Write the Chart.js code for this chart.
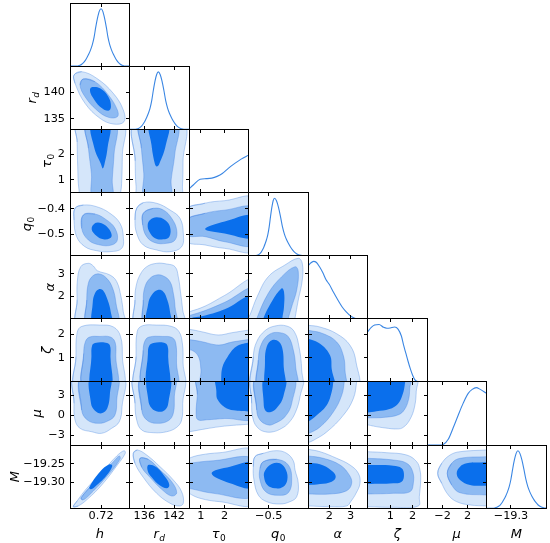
<!DOCTYPE html>
<html>
<head>
<meta charset="utf-8">
<script src="https://cdn.jsdelivr.net/npm/chart.js@4.4.1/dist/chart.umd.min.js"></script>
<style>
html,body{margin:0;padding:0;background:#fff;}
body{position:relative;width:550px;height:543px;overflow:hidden;}
canvas{position:absolute;}
</style>
</head>
<body>
<script>
// ---------------- data ----------------
const params = ['h', 'r_d', 'τ_0', 'q_0', 'α', 'ζ', 'μ', 'M'];
const axisMin = [0.6835, 133, 0.5, -0.585, 1.0, -0.02, -4.5, -19.37];
const axisMax = [0.7535, 145, 3.0, -0.335, 3.8, 2.65, 5.0, -19.20];
const xTicks = [[0.72], [136, 142], [1, 2], [-0.5], [2, 3], [1, 2], [-2, 2], [-19.3]];
const xTickText = [['0.72'], ['136', '142'], ['1', '2'], ['−0.5'], ['2', '3'], ['1', '2'], ['−2', '2'], ['−19.3']];
const yTicks = [[], [140, 135], [2, 1], [-0.4, -0.5], [3, 2], [2, 1], [3, 0, -3], [-19.25, -19.30]];
const yTickText = [[], ['140', '135'], ['2', '1'], ['−0.4', '−0.5'], ['3', '2'], ['2', '1'], ['3', '0', '−3'], ['−19.25', '−19.30']];
const DENSITY_MAX = 1.1;

// 1D marginals: [x, density, x, density, ...]
const pdf_h = [0.6835,0, 0.6903,0, 0.6928,0.004, 0.6953,0.015, 0.6973,0.033, 0.6994,0.06, 0.7015,0.10, 0.7035,0.15, 0.7056,0.21, 0.7076,0.28, 0.7097,0.37, 0.7118,0.5, 0.7138,0.68, 0.7159,0.84, 0.7179,0.955, 0.72,1.0, 0.7221,0.955, 0.7241,0.84, 0.7262,0.68, 0.7282,0.5, 0.7303,0.37, 0.7324,0.28, 0.7344,0.21, 0.7365,0.15, 0.7385,0.10, 0.7406,0.06, 0.7427,0.033, 0.7447,0.015, 0.7472,0.004, 0.7497,0, 0.7535,0];
const pdf_rd = [133,0, 134.02,0, 134.42,0.004, 134.82,0.015, 135.15,0.033, 135.48,0.06, 135.82,0.10, 136.15,0.15, 136.48,0.21, 136.81,0.28, 137.15,0.37, 137.48,0.5, 137.81,0.68, 138.14,0.84, 138.48,0.955, 138.81,1.0, 139.18,0.955, 139.56,0.84, 139.93,0.68, 140.3,0.5, 140.68,0.37, 141.05,0.28, 141.42,0.21, 141.8,0.15, 142.17,0.10, 142.54,0.06, 142.91,0.033, 143.29,0.015, 143.74,0.004, 144.18,0, 145,0];
const pdf_tau = [0.5,0.063, 0.68,0.13, 0.97,0.23, 1.22,0.24, 1.46,0.25, 1.68,0.28, 1.9,0.33, 2.15,0.42, 2.44,0.51, 2.69,0.58, 3.0,0.65];
const pdf_q0 = [-0.585,0, -0.556,0, -0.5493,0.004, -0.5426,0.015, -0.537,0.033, -0.5315,0.06, -0.5259,0.10, -0.5203,0.15, -0.5148,0.21, -0.5092,0.28, -0.5036,0.37, -0.4981,0.5, -0.4925,0.68, -0.4869,0.84, -0.4814,0.955, -0.4758,1.0, -0.4674,0.955, -0.459,0.84, -0.4506,0.68, -0.4422,0.5, -0.4338,0.37, -0.4254,0.28, -0.417,0.21, -0.4086,0.15, -0.4002,0.10, -0.3918,0.06, -0.3834,0.033, -0.375,0.015, -0.3649,0.004, -0.3548,0, -0.335,0];
const pdf_al = [1.0,0.92, 1.12,0.97, 1.26,1.0, 1.4,0.98, 1.55,0.90, 1.7,0.80, 1.85,0.68, 2.0,0.60, 2.2,0.46, 2.4,0.33, 2.6,0.21, 2.8,0.12, 3.0,0.05, 3.2,0.01, 3.4,0, 3.8,0];
const pdf_ze = [-0.02,0.87, 0.15,0.95, 0.3,0.99, 0.5,1.0, 0.7,0.95, 0.85,0.935, 1.0,0.94, 1.2,0.955, 1.35,0.92, 1.5,0.80, 1.6,0.64, 1.7,0.50, 1.8,0.36, 1.9,0.23, 2.0,0.12, 2.1,0.04, 2.2,0.01, 2.3,0, 2.65,0];
const pdf_mu = [-4.5,0, -2.5,0, -1.91,0.01, -1.11,0.10, -0.32,0.30, 0.48,0.52, 1.28,0.73, 2.08,0.90, 2.72,0.97, 3.36,1.0, 4.0,0.97, 5.0,0.90];
const pdf_M = [-19.37,0, -19.3523,0, -19.3463,0.004, -19.3403,0.015, -19.3353,0.033, -19.3303,0.06, -19.3253,0.10, -19.3203,0.15, -19.3153,0.21, -19.3103,0.28, -19.3053,0.37, -19.3003,0.5, -19.2953,0.68, -19.2903,0.84, -19.2853,0.955, -19.2803,1.0, -19.2746,0.955, -19.2689,0.84, -19.2632,0.68, -19.2574,0.5, -19.2517,0.37, -19.246,0.28, -19.2403,0.21, -19.2346,0.15, -19.2289,0.10, -19.2232,0.06, -19.2174,0.033, -19.2117,0.015, -19.2049,0.004, -19.198,0];

// 2D contours (outer, middle, inner), each [x, y, x, y, ...] in data units
const k_rd_h = [
 [0.6882,143.32, 0.6973,143.95, 0.7149,142.69, 0.7344,139.84, 0.7462,136.67, 0.7470,134.44, 0.7344,134.01, 0.7188,135.09, 0.7012,137.94, 0.6894,141.74],
 [0.6991,142.56, 0.7129,142.05, 0.7286,139.52, 0.7392,136.67, 0.7392,135.39, 0.7286,135.28, 0.7149,136.67, 0.7012,139.19, 0.6953,141.42],
 [0.7090,140.98, 0.7188,140.79, 0.7286,139.19, 0.7317,137.29, 0.7286,136.53, 0.7188,137.29, 0.7102,139.08, 0.7070,140.33]];
const k_tau_h = [
 [0.6919,3.25, 0.7455,3.25, 0.7451,2.0, 0.7444,1.0, 0.7430,0.5, 0.7395,0.25, 0.6975,0.25, 0.694,0.625, 0.6926,1.5, 0.6919,2.5],
 [0.7031,3.25, 0.7367,3.25, 0.7353,2.0, 0.7332,1.0, 0.7325,0.25, 0.7108,0.25, 0.7087,1.25, 0.7052,2.25],
 [0.7087,3.25, 0.7297,3.25, 0.7276,2.25, 0.7241,1.625, 0.722,1.45, 0.7199,1.625, 0.7122,2.25]];
const k_tau_rd = [
 [134.08,3.25, 143.86,3.25, 143.8,1.75, 143.68,0.75, 143.32,0.25, 134.8,0.25, 134.32,0.75, 134.14,1.75],
 [135.16,3.25, 142.48,3.25, 142.12,2.0, 141.4,1.0, 141.16,0.25, 136.12,0.25, 135.88,1.25, 135.4,2.25],
 [137.08,3.25, 140.8,3.25, 140.32,2.375, 139,1.625, 138.47,1.525, 138.04,1.7, 137.44,2.375]];
const k_q0_h = [
 [0.6894,-0.3978, 0.6992,-0.3848, 0.7149,-0.3915, 0.7305,-0.4175, 0.7423,-0.4573, 0.7462,-0.51, 0.7443,-0.5563, 0.7305,-0.5695, 0.7149,-0.5655, 0.7011,-0.5498, 0.6913,-0.51, 0.6882,-0.444],
 [0.6992,-0.4243, 0.7129,-0.4203, 0.7266,-0.444, 0.7364,-0.477, 0.7392,-0.5233, 0.7325,-0.543, 0.7188,-0.543, 0.7051,-0.5233, 0.6972,-0.477],
 [0.7129,-0.4573, 0.7207,-0.4573, 0.7286,-0.477, 0.7325,-0.5035, 0.7305,-0.5165, 0.7227,-0.5205, 0.7149,-0.5075, 0.709,-0.481]];
const k_q0_rd = [
 [134.45,-0.3978, 135.78,-0.3755, 138.48,-0.378, 141.17,-0.4045, 143.19,-0.4375, 143.85,-0.4968, 143.52,-0.5498, 141.17,-0.5695, 138.48,-0.5628, 135.78,-0.543, 134.45,-0.4968, 134.1,-0.444],
 [135.78,-0.4175, 137.8,-0.3978, 139.82,-0.4045, 141.51,-0.4375, 142.52,-0.4838, 142.18,-0.5233, 140.5,-0.5363, 138.15,-0.534, 136.47,-0.51, 135.66,-0.4638],
 [137.14,-0.444, 138.48,-0.4335, 140.16,-0.444, 141.17,-0.4705, 141.03,-0.51, 139.82,-0.5205, 138.15,-0.5165, 137,-0.4903, 136.67,-0.4638]];
const k_q0_tau = [
 [0.375,-0.405, 1.175,-0.3775, 2.0,-0.3675, 3.25,-0.36, 3.25,-0.5625, 2.0,-0.5563, 1.175,-0.543, 0.375,-0.525],
 [0.375,-0.445, 1.175,-0.4175, 2.0,-0.405, 3.25,-0.3975, 3.25,-0.54, 2.0,-0.53, 1.175,-0.51, 0.375,-0.5025],
 [1.175,-0.48, 2.0,-0.45, 3.25,-0.4275, 3.25,-0.5125, 2.0,-0.4975]];
const k_al_h = [
 [0.6926,0.72, 0.6919,1.84, 0.6921,2.644, 0.6961,3.307, 0.7051,3.458, 0.711,3.338, 0.7156,3.131, 0.7305,2.94, 0.7385,2.644, 0.7435,1.977, 0.7462,1.314, 0.7479,0.72],
 [0.7038,0.72, 0.7032,1.832, 0.7051,2.571, 0.7102,2.896, 0.718,2.985, 0.7267,2.792, 0.7337,2.35, 0.7376,1.683, 0.7392,0.72],
 [0.7108,0.72, 0.7102,1.683, 0.7129,2.128, 0.718,2.319, 0.7227,2.246, 0.7278,1.832, 0.7314,1.314, 0.7325,0.72]];
const k_al_rd = [
 [134.32,0.72, 134.1,1.832, 134.31,2.422, 135.11,2.94, 136.47,3.307, 138.48,3.458, 140.5,3.428, 142.18,3.307, 142.84,2.865, 143.32,2.128, 143.73,1.389, 144.04,0.72],
 [136.12,0.72, 135.78,1.832, 136.12,2.422, 137.14,2.792, 138.48,2.94, 139.82,2.896, 141.17,2.644, 141.84,2.128, 142.18,1.535, 142.31,0.72],
 [136.6,0.72, 136.79,1.683, 137.48,2.053, 138.69,2.274, 139.82,2.201, 140.63,1.832, 141.17,1.314, 141.3,0.72]];
const k_al_tau = [
 [0.25,0.72, 0.25,1.252, 0.5,1.308, 1.175,1.56, 2.0,2.036, 3.25,2.736, 3.25,0.72],
 [0.25,0.72, 0.25,1.084, 0.5,1.14, 1.175,1.364, 2.0,1.728, 3.25,2.344, 3.25,0.72],
 [0.5,0.72, 0.5,0.972, 1.175,1.14, 2.0,1.42, 3.25,2.036, 3.25,0.72]];
const k_al_q0 = [
 [-0.585,0.72, -0.585,1.056, -0.5788,1.168, -0.5475,2.008, -0.5018,2.865, -0.4318,3.383, -0.3758,3.68, -0.359,3.458, -0.359,2.719, -0.3758,1.832, -0.39,1.0, -0.395,0.72],
 [-0.555,0.72, -0.5505,1.0, -0.5018,2.128, -0.4455,2.865, -0.3895,3.307, -0.3758,3.086, -0.3825,2.274, -0.4035,1.535, -0.4178,1.0, -0.42,0.72],
 [-0.525,0.72, -0.5228,1.0, -0.4875,1.756, -0.4455,2.35, -0.4358,2.201, -0.4358,1.535, -0.443,1.0, -0.4438,0.72]];
const k_ze_h = [
 [0.6905,-0.287, 0.6905,1.048, 0.6919,2.063, 0.6975,2.33, 0.7185,2.383, 0.7346,2.303, 0.743,1.902, 0.7451,1.048, 0.7444,-0.287],
 [0.6996,-0.287, 0.6996,1.182, 0.7017,1.689, 0.7066,1.876, 0.7185,1.902, 0.7311,1.876, 0.7367,1.635, 0.7374,1.048, 0.7374,-0.287],
 [0.7087,-0.287, 0.7087,1.048, 0.7094,1.502, 0.7129,1.622, 0.7255,1.635, 0.7304,1.529, 0.7311,1.048, 0.7311,-0.287]];
const k_ze_rd = [
 [134.32,-0.287, 134.32,1.048, 134.56,2.116, 135.64,2.356, 138.4,2.383, 141.4,2.33, 142.96,2.116, 143.68,1.582, 143.8,0.781, 143.8,-0.287],
 [135.76,-0.287, 135.76,1.315, 136.12,1.716, 136.96,1.876, 139.6,1.902, 141.64,1.849, 142.36,1.582, 142.48,0.781, 142.48,-0.287],
 [136.72,-0.287, 136.72,1.182, 136.96,1.502, 137.8,1.622, 139.96,1.635, 140.68,1.502, 140.8,1.048, 140.8,-0.287]];
const k_ze_tau = [
 [0.25,2.196, 0.5,2.204, 1.025,2.103, 1.725,1.964, 2.3,2.06, 3.0,2.169, 3.25,2.196, 3.25,-0.287, 0.25,-0.287],
 [0.25,1.796, 0.5,1.769, 1.0,1.689, 1.75,1.539, 2.3,1.662, 3.0,1.769, 3.25,1.796, 3.25,-0.287, 1.05,-0.287, 1.0,0.514, 0.9,1.048, 0.625,1.315, 0.25,1.368],
 [3.25,1.662, 3.0,1.649, 2.475,1.467, 2.125,1.048, 1.9,0.594, 1.85,-0.02, 1.85,-0.287, 3.25,-0.287]];
const k_ze_q0 = [
 [-0.565,-0.287, -0.5648,1.048, -0.5505,1.681, -0.5158,2.145, -0.4738,2.343, -0.4245,2.343, -0.3925,2.103, -0.3728,1.467, -0.3615,0.482, -0.365,-0.287],
 [-0.541,-0.287, -0.5438,0.906, -0.5295,1.611, -0.4948,2.004, -0.4528,2.06, -0.4178,1.892, -0.3968,1.328, -0.3868,0.621, -0.3855,-0.287],
 [-0.5085,-0.287, -0.5158,0.765, -0.5085,1.467, -0.485,1.75, -0.4568,1.681, -0.4413,1.328, -0.437,0.621, -0.4345,-0.287]];
const k_ze_al = [
 [0.72,-0.287, 0.72,2.383, 1.0,2.372, 1.566,2.3, 2.35,2.017, 2.977,1.529, 3.26,0.821, 3.296,-0.287],
 [0.72,-0.287, 0.72,2.169, 1.0,2.161, 1.72,2.017, 2.35,1.667, 2.66,1.104, 2.742,0.471, 2.708,-0.287],
 [0.72,-0.287, 0.72,1.822, 1.0,1.806, 1.566,1.595, 2.036,1.104, 2.114,0.538, 2.204,-0.287]];
const k_mu_h = [
 [0.6894,5.95, 0.6882,1.78, 0.6894,-0.729, 0.6953,-1.983, 0.709,-2.496, 0.7208,-2.733, 0.7325,-1.983, 0.7415,-0.985, 0.7447,1.267, 0.7455,5.95],
 [0.6972,5.95, 0.6972,0.773, 0.7039,-0.729, 0.7168,-1.232, 0.7286,-0.843, 0.7364,0.022, 0.7385,2.274, 0.7385,5.95],
 [0.7079,5.95, 0.7082,1.78, 0.7129,0.668, 0.7208,0.279, 0.7274,1.029, 0.7305,3.281, 0.7305,5.95]];
const k_mu_rd = [
 [134.1,5.95, 134.1,1.78, 134.45,-0.729, 135.46,-2.239, 137.8,-2.638, 140.5,-2.496, 142.52,-1.83, 143.52,-0.729, 143.73,1.78, 143.73,5.95],
 [135.46,5.95, 135.46,0.773, 136.47,-0.729, 138.48,-1.232, 140.82,-0.843, 141.83,0.279, 142.04,2.777, 142.04,5.95],
 [136.79,5.95, 136.79,2.274, 137.48,1.029, 138.81,0.516, 140.16,0.773, 140.82,1.78, 141.03,5.95]];
const k_mu_tau = [
 [0.25,5.95, 3.25,5.95, 3.25,-1.27, 3.0,-1.365, 2.0,-1.65, 1.25,-2.03, 0.5,-2.505, 0.25,-2.6],
 [0.875,5.95, 3.25,5.95, 3.25,-0.32, 2.0,-0.51, 1.25,-0.7, 0.875,-0.7, 0.8,0.25, 0.85,3.1],
 [1.675,5.95, 3.25,5.95, 3.25,0.44, 3.0,0.535, 2.375,0.725, 2.0,1.2, 1.7,2.34, 1.65,3.575]];
const k_mu_q0 = [
 [-0.5648,5.95, -0.5718,1.78, -0.5648,-0.729, -0.5438,-1.983, -0.5158,-2.496, -0.4808,-2.496, -0.4455,-1.983, -0.4178,-1.232, -0.3895,0.279, -0.3685,2.777, -0.3615,5.95],
 [-0.5505,5.95, -0.5505,0.773, -0.5368,-0.729, -0.5018,-1.479, -0.4738,-1.232, -0.4318,-0.235, -0.4035,1.78, -0.3968,5.95],
 [-0.5158,5.95, -0.5213,1.78, -0.5128,0.621, -0.4905,0.469, -0.464,1.181, -0.4388,2.777, -0.4318,5.95]];
const k_mu_al = [
 [0.72,5.95, 3.296,5.95, 3.29,5.0, 3.131,2.473, 2.66,-0.026, 1.879,-2.534, 1.252,-3.797, 1.0,-4.149, 0.72,-4.5],
 [0.72,5.95, 2.722,5.95, 2.708,5.0, 2.585,2.977, 2.19,0.469, 1.566,-1.783, 1.0,-2.79, 0.72,-3.075],
 [0.72,5.95, 2.204,5.95, 2.19,5.0, 2.114,3.48, 1.879,1.476, 1.409,-0.026, 1.0,-1.033, 0.72,-1.365]];
const k_mu_ze = [
 [-0.287,5.95, 2.169,5.95, 2.169,3.575, 2.089,1.2, 1.876,-0.7, 1.582,-1.84, 1.315,-2.078, 0.781,-1.935, 0.247,-1.65, -0.02,-1.46, -0.287,-1.365],
 [-0.287,5.95, 1.902,5.95, 1.876,4.05, 1.822,2.34, 1.635,0.82, 1.368,0.06, 0.781,-0.32, -0.02,-0.415, -0.287,-0.415],
 [-0.287,5.95, 1.662,5.95, 1.662,4.81, 1.555,3.1, 1.342,1.675, 0.968,0.915, 0.381,0.583, -0.02,0.393, -0.287,0.345]];
const k_M_h = [
 [0.6874,-19.3659, 0.6921,-19.3498, 0.7032,-19.3165, 0.7227,-19.269, 0.7385,-19.2294, 0.7471,-19.2151, 0.7485,-19.2223, 0.7392,-19.2537, 0.7208,-19.3076, 0.7039,-19.346, 0.6932,-19.364],
 [0.6965,-19.3418, 0.7149,-19.294, 0.7345,-19.2449, 0.7415,-19.2294, 0.7423,-19.2384, 0.7259,-19.2869, 0.7051,-19.3372, 0.6984,-19.3479],
 [0.7062,-19.3137, 0.7188,-19.2717, 0.7298,-19.2519, 0.7333,-19.2564, 0.7259,-19.2833, 0.7129,-19.3122, 0.7079,-19.3192]];
const k_M_rd = [
 [133.77,-19.2223, 134.57,-19.2133, 136.47,-19.2269, 139.16,-19.2583, 141.83,-19.294, 143.52,-19.3256, 143.85,-19.3567, 143.04,-19.364, 141.17,-19.3567, 138.48,-19.3299, 135.78,-19.2869, 134.1,-19.2491],
 [135.11,-19.2357, 136.79,-19.2384, 139.16,-19.2672, 141.51,-19.2986, 142.52,-19.3284, 141.51,-19.3372, 139.49,-19.3192, 137.14,-19.2869, 135.46,-19.2598],
 [136.79,-19.2537, 138.28,-19.2583, 140.16,-19.2852, 141.03,-19.3076, 140.5,-19.3165, 139.01,-19.3076, 137.48,-19.2869, 136.67,-19.269]];
const k_M_tau = [
 [0.375,-19.2425, 0.5,-19.2357, 0.9625,-19.2269, 1.8,-19.2206, 3.25,-19.217, 3.25,-19.3564, 1.8,-19.3525, 0.9625,-19.3433, 0.5,-19.3299, 0.375,-19.3224],
 [0.375,-19.251, 0.5,-19.2491, 1.525,-19.2422, 3.25,-19.2391, 3.25,-19.336, 1.525,-19.3299, 0.5,-19.3165, 0.375,-19.3156],
 [1.45,-19.276, 2.225,-19.2583, 3.25,-19.2493, 3.25,-19.3139, 2.225,-19.303]];
const k_M_q0 = [
 [-0.5578,-19.2313, -0.5228,-19.2223, -0.4665,-19.2151, -0.4245,-19.2223, -0.3968,-19.2422, -0.3895,-19.2672, -0.3758,-19.303, -0.3825,-19.3391, -0.4108,-19.3525, -0.4528,-19.3586, -0.5085,-19.3525, -0.5438,-19.3345, -0.562,-19.294, -0.5648,-19.2583],
 [-0.5228,-19.2449, -0.4665,-19.2384, -0.4178,-19.2537, -0.4035,-19.294, -0.4178,-19.3284, -0.4598,-19.3353, -0.5115,-19.3263, -0.5368,-19.294, -0.5368,-19.2626],
 [-0.5158,-19.269, -0.4875,-19.251, -0.4528,-19.2491, -0.4275,-19.2672, -0.422,-19.294, -0.4388,-19.312, -0.4738,-19.3165, -0.506,-19.3076, -0.5198,-19.2852]];
const k_M_al = [
 [0.72,-19.2085, 1.0,-19.2114, 1.566,-19.2179, 2.35,-19.2357, 2.977,-19.2537, 3.369,-19.276, 3.447,-19.303, 3.26,-19.3299, 3.008,-19.3525, 2.82,-19.364, 2.036,-19.3659, 1.0,-19.364, 0.72,-19.364],
 [0.72,-19.2289, 1.0,-19.2294, 1.72,-19.2357, 2.506,-19.2537, 2.943,-19.2806, 3.055,-19.303, 2.82,-19.3229, 2.036,-19.3318, 1.0,-19.3318, 0.72,-19.3318],
 [0.72,-19.2476, 1.0,-19.2474, 1.566,-19.2519, 2.114,-19.269, 2.305,-19.2852, 2.114,-19.2986, 1.566,-19.3049, 1.0,-19.3076, 0.72,-19.3076]];
const k_M_ze = [
 [-0.287,-19.217, -0.02,-19.2179, 0.84,-19.2206, 1.74,-19.2269, 2.188,-19.2449, 2.335,-19.2672, 2.367,-19.294, 2.306,-19.3391, 2.26,-19.364, 1.139,-19.3676, -0.02,-19.3659, -0.287,-19.3659],
 [-0.287,-19.2357, -0.02,-19.2357, 1.139,-19.2403, 1.74,-19.2491, 2.009,-19.2717, 2.036,-19.303, 1.886,-19.3256, 1.139,-19.3299, -0.02,-19.3318, -0.287,-19.3318],
 [-0.287,-19.2537, -0.02,-19.2537, 1.139,-19.2556, 1.513,-19.2626, 1.617,-19.2806, 1.513,-19.2986, 1.139,-19.303, -0.02,-19.3049, -0.287,-19.3049]];
const k_M_mu = [
 [-2.79,-19.276, -2.154,-19.2491, -0.824,-19.2269, 0.773,-19.2179, 5.0,-19.2133, 5.95,-19.2128, 5.95,-19.3649, 5.0,-19.364, 2.369,-19.3613, 0.241,-19.3525, -1.099,-19.3345, -2.154,-19.303],
 [-1.26,-19.276, -0.558,-19.2491, 0.773,-19.2357, 5.0,-19.2313, 5.95,-19.2306, 5.95,-19.3352, 5.0,-19.3345, 0.773,-19.3284, -0.558,-19.3076],
 [0.241,-19.276, 0.773,-19.2583, 1.837,-19.2491, 5.0,-19.2464, 5.95,-19.2459, 5.95,-19.3097, 5.0,-19.3095, 2.369,-19.3076, 0.773,-19.294]];

const marginals = [pdf_h, pdf_rd, pdf_tau, pdf_q0, pdf_al, pdf_ze, pdf_mu, pdf_M];
const contours = {
  '1,0': k_rd_h,
  '2,0': k_tau_h, '2,1': k_tau_rd,
  '3,0': k_q0_h, '3,1': k_q0_rd, '3,2': k_q0_tau,
  '4,0': k_al_h, '4,1': k_al_rd, '4,2': k_al_tau, '4,3': k_al_q0,
  '5,0': k_ze_h, '5,1': k_ze_rd, '5,2': k_ze_tau, '5,3': k_ze_q0, '5,4': k_ze_al,
  '6,0': k_mu_h, '6,1': k_mu_rd, '6,2': k_mu_tau, '6,3': k_mu_q0, '6,4': k_mu_al, '6,5': k_mu_ze,
  '7,0': k_M_h, '7,1': k_M_rd, '7,2': k_M_tau, '7,3': k_M_q0, '7,4': k_M_al, '7,5': k_M_ze, '7,6': k_M_mu
};

// ---------------- layout / style ----------------
const N = 8;
const GRID_LEFT = 70, GRID_TOP = 3, CELL_W = 59.5, CELL_H = 63.15, PAD = 3, PAGE_H = 543;
const TICK_FONT = {family: 'DejaVu Sans', size: 11.3};
const TITLE_SIZE = 13, SUB_SIZE = 9;
const TICK_LEN = 3.5;
const FILLS = ['#d5e6fa', '#8dbaf2', '#0a6fec'];
const EDGES = ['rgba(80,140,225,0.55)', 'rgba(60,125,225,0.5)', 'rgba(10,111,236,0)'];
const LINE1D = '#3a86e3';

Chart.defaults.font.family = 'DejaVu Sans';

function pairs(flat) {
  const a = [];
  for (let k = 0; k < flat.length; k += 2) a.push({x: flat[k], y: flat[k + 1]});
  return a;
}
function ring(flat) {
  const p = pairs(flat);
  const n = p.length;
  return [p[n - 1], ...p, p[0], p[1]];
}
function al(v) { return Math.floor(v) + 0.5; }

function drawMath(ctx, text, x, y, rotated) {
  const parts = text.split('_');
  const main = parts[0], sub = parts[1];
  const mainFont = `italic ${TITLE_SIZE}px "DejaVu Sans"`;
  const subFont = sub && /\d/.test(sub) ? `${SUB_SIZE}px "DejaVu Sans"` : `italic ${SUB_SIZE}px "DejaVu Sans"`;
  ctx.save();
  ctx.translate(x, y);
  if (rotated) ctx.rotate(-Math.PI / 2);
  ctx.fillStyle = '#000';
  ctx.textBaseline = 'alphabetic';
  ctx.textAlign = 'left';
  ctx.font = mainFont;
  const w1 = ctx.measureText(main).width;
  let w2 = 0;
  if (sub) { ctx.font = subFont; w2 = ctx.measureText(sub).width + 0.5; }
  const x0 = -(w1 + w2) / 2;
  ctx.font = mainFont;
  ctx.fillText(main, x0, 0);
  if (sub) { ctx.font = subFont; ctx.fillText(sub, x0 + w1 + 0.5, 3); }
  ctx.restore();
}

function framePlugin(row, col) {
  return {
    id: 'frame',
    afterDraw(chart) {
      const ctx = chart.ctx, a = chart.chartArea, xs = chart.scales.x, ys = chart.scales.y;
      ctx.save();
      ctx.strokeStyle = '#000';
      ctx.lineWidth = 1;
      const L = al(a.left), R = al(a.right), T = al(a.top), B = al(a.bottom);
      ctx.strokeRect(L, T, R - L, B - T);
      ctx.beginPath();
      for (const v of xTicks[col]) {
        const p = al(xs.getPixelForValue(v));
        ctx.moveTo(p, B); ctx.lineTo(p, B - TICK_LEN);
        ctx.moveTo(p, T); ctx.lineTo(p, T + TICK_LEN);
      }
      if (row !== col) {
        for (const v of yTicks[row]) {
          const p = al(ys.getPixelForValue(v));
          ctx.moveTo(L, p); ctx.lineTo(L + TICK_LEN, p);
          ctx.moveTo(R, p); ctx.lineTo(R - TICK_LEN, p);
        }
      }
      ctx.stroke();
      if (row === N - 1) drawMath(ctx, params[col], (a.left + a.right) / 2, a.bottom + 29.8, false);
      if (col === 0 && row > 0) {
        ctx.font = `${TICK_FONT.size}px "${TICK_FONT.family}"`;
        const w = Math.max(...yTickText[row].map(t => ctx.measureText(t).width));
        const deep = /_|q|ζ|μ/.test(params[row]) ? 3 : 0;
        drawMath(ctx, params[row], a.left - 5 - w - 4 - deep, (a.top + a.bottom) / 2, true);
      }
      ctx.restore();
    }
  };
}

function makePanel(row, col) {
  const pl = GRID_LEFT + col * CELL_W, pt = GRID_TOP + row * CELL_H;
  const pr = pl + CELL_W, pb = pt + CELL_H;
  const leftAxis = col === 0 && row > 0;
  const bottomAxis = row === N - 1;
  const cl = leftAxis ? 0 : Math.floor(pl - PAD);
  const ct = Math.floor(pt - PAD);
  const cr = Math.ceil(pr + PAD);
  const cb = bottomAxis ? PAGE_H : Math.ceil(pb + PAD);
  const W = cr - cl, H = cb - ct;
  const cv = document.createElement('canvas');
  cv.width = W; cv.height = H;
  cv.style.width = W + 'px'; cv.style.height = H + 'px';
  cv.style.left = cl + 'px'; cv.style.top = ct + 'px';
  document.body.appendChild(cv);

  const diag = row === col;
  let datasets;
  if (diag) {
    datasets = [{
      data: pairs(marginals[col]), borderColor: LINE1D, borderWidth: 1.1, fill: false,
      cubicInterpolationMode: 'monotone', pointRadius: 0, clip: 0
    }];
  } else {
    const k = contours[row + ',' + col];
    datasets = [2, 1, 0].map(l => ({
      data: ring(k[l]), fill: 'shape', backgroundColor: FILLS[l], borderColor: EDGES[l],
      borderWidth: l === 2 ? 0 : 0.7, tension: 0.4, pointRadius: 0, clip: 0
    }));
  }

  const xScale = {
    type: 'linear', min: axisMin[col], max: axisMax[col], display: bottomAxis,
    grid: {display: false, drawTicks: false}, border: {display: false},
    ticks: {font: TICK_FONT, color: '#000', padding: 1.3, autoSkip: false, maxRotation: 0, minRotation: 0,
            callback: (v, i) => xTickText[col][i]},
    afterBuildTicks: s => { s.ticks = xTicks[col].map(v => ({value: v})); },
    afterFit: s => { s.paddingLeft = 0; s.paddingRight = 0; if (bottomAxis) s.height = cb - pb; }
  };
  const yScale = diag ? {type: 'linear', min: 0, max: DENSITY_MAX, display: false} : {
    type: 'linear', min: axisMin[row], max: axisMax[row], display: leftAxis,
    grid: {display: false, drawTicks: false}, border: {display: false},
    ticks: {font: TICK_FONT, color: '#000', padding: 5, autoSkip: false,
            callback: (v, i) => yTickText[row][i]},
    afterBuildTicks: s => { s.ticks = yTicks[row].map(v => ({value: v})); },
    afterFit: s => { s.paddingTop = 0; s.paddingBottom = 0; if (leftAxis) s.width = pl - cl; }
  };

  new Chart(cv, {
    type: 'line',
    data: {datasets},
    options: {
      responsive: false, animation: false, events: [],
      layout: {padding: {left: leftAxis ? 0 : pl - cl, top: pt - ct, right: cr - pr, bottom: bottomAxis ? 0 : cb - pb}},
      plugins: {legend: {display: false}, tooltip: {enabled: false}},
      elements: {point: {radius: 0}, line: {capBezierPoints: false}},
      scales: {x: xScale, y: yScale}
    },
    plugins: [framePlugin(row, col)]
  });
}

for (let r = 0; r < N; r++) for (let c = 0; c <= r; c++) makePanel(r, c);
</script>
</body>
</html>
